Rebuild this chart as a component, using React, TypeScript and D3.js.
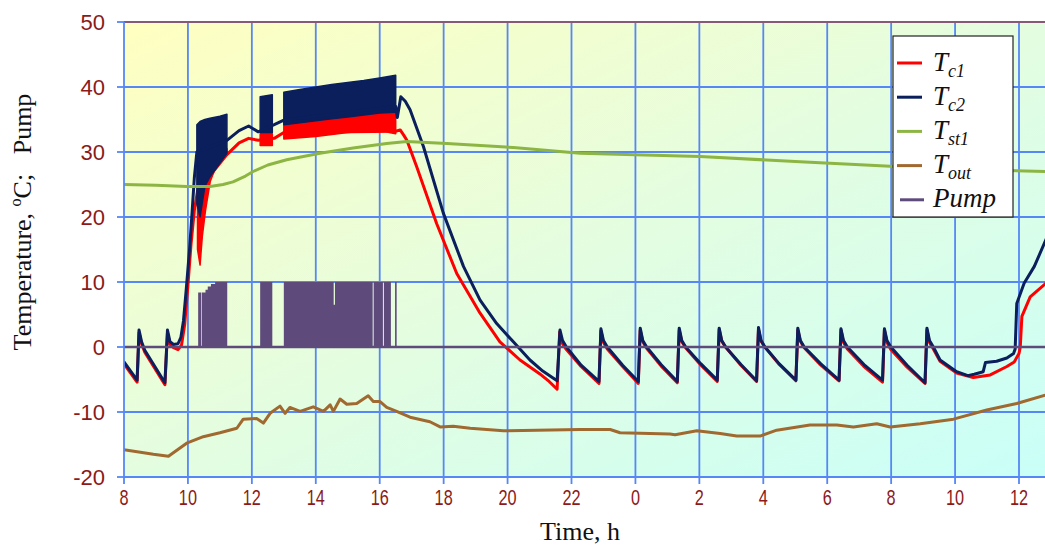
import React from 'react';
import * as d3 from 'd3';

const W = 1045;
const H = 549;

// time in hours from the first morning (24 = midnight)
const hourTicks = [8, 10, 12, 14, 16, 18, 20, 22, 24, 26, 28, 30, 32, 34, 36];
const hourLabels = ['8', '10', '12', '14', '16', '18', '20', '22', '0', '2', '4', '6', '8', '10', '12'];
const tempTicks = [-20, -10, 0, 10, 20, 30, 40, 50];

type Pt = [number, number];
type BandPt = [number, number, number];

const tc1: Pt[] = [
  [8.0, -2.6], [8.41, -5.4], [8.47, 2.2], [8.55, 0.5], [8.65, -0.8], [9.28, -5.8], [9.36, 2.2], [9.44, 0.4],
  [9.55, -0.1], [9.69, -0.4], [9.8, 0.3], [9.9, 3.5], [10.0, 9.5], [10.1, 16], [10.2, 21], [10.3, 24],
  [11.22, 29.6], [11.6, 31.4], [11.9, 32.1], [12.0, 32.0], [12.2, 31.8], [12.7, 32.1], [13.0, 33.0],
  [16.5, 33.2], [16.64, 33.4], [16.75, 32.6], [16.85, 31.8], [17.16, 27.7], [17.78, 19.0], [18.41, 11.3],
  [19.14, 5.2], [19.76, 0.8], [20.39, -2.0], [21.0, -4.1], [21.3, -5.3], [21.55, -6.5],
  [21.63, 2.3], [21.71, 0.6], [21.84, -0.4], [22.3, -3.0], [22.86, -5.6],
  [22.92, 2.5], [23.0, 0.7], [23.12, -0.3], [23.6, -3.0], [24.09, -5.6],
  [24.15, 2.6], [24.23, 0.8], [24.35, -0.2], [24.8, -2.9], [25.31, -5.5],
  [25.37, 2.6], [25.45, 0.8], [25.57, -0.1], [26.05, -2.8], [26.56, -5.3],
  [26.62, 2.7], [26.7, 0.9], [26.82, 0.0], [27.3, -2.8], [27.79, -5.3],
  [27.85, 2.7], [27.93, 0.9], [28.05, 0.0], [28.5, -2.7], [29.02, -5.2],
  [29.08, 2.6], [29.16, 0.9], [29.28, -0.1], [29.8, -2.8], [30.37, -5.2],
  [30.43, 2.6], [30.51, 0.7], [30.63, -0.3], [31.15, -3.0], [31.73, -5.4],
  [31.79, 2.6], [31.87, 0.7], [31.99, -0.4], [32.5, -3.1], [33.06, -5.6],
  [33.12, 2.6], [33.2, 0.7], [33.32, -0.3], [33.53, -2.2], [34.05, -4.0], [34.57, -4.7], [35.1, -4.3],
  [35.62, -3.0], [35.85, -2.3], [36.0, -1.0], [36.04, 0.0], [36.09, 4.7], [36.35, 7.7], [36.84, 9.8], [37.0, 10.4],
];

const tc2: Pt[] = [
  [8.0, -2.3], [8.41, -5.1], [8.47, 2.6], [8.55, 0.8], [8.65, -0.5], [9.28, -5.5], [9.36, 2.6], [9.44, 0.8],
  [9.55, 0.4], [9.69, 0.5], [9.78, 1.5], [9.86, 4.0], [9.95, 9.0], [10.05, 15], [10.12, 20], [10.2, 26], [10.28, 30],
  [11.22, 31.8], [11.6, 33.3], [11.9, 34.0], [12.0, 33.7], [12.2, 33.1], [12.7, 34.2], [13.0, 34.9],
  [16.5, 37.0], [16.55, 35.3], [16.66, 38.5], [16.8, 37.8], [16.95, 36.5], [17.37, 30.8], [17.99, 20.6],
  [18.62, 12.4], [19.14, 7.2], [19.66, 3.6], [20.18, 0.8], [20.7, -2.0], [21.1, -3.7], [21.55, -5.2],
  [21.64, 2.6], [21.72, 1.0], [21.84, 0.0], [22.3, -2.8], [22.86, -5.3],
  [22.92, 2.8], [23.0, 1.0], [23.12, 0.0], [23.6, -2.8], [24.09, -5.3],
  [24.15, 2.9], [24.23, 1.0], [24.35, 0.0], [24.8, -2.7], [25.31, -5.3],
  [25.37, 2.9], [25.45, 1.0], [25.57, 0.0], [26.05, -2.6], [26.56, -5.1],
  [26.62, 2.9], [26.7, 1.0], [26.82, 0.0], [27.3, -2.7], [27.79, -5.2],
  [27.85, 3.0], [27.93, 1.0], [28.05, 0.0], [28.5, -2.6], [29.02, -5.1],
  [29.08, 2.9], [29.16, 1.0], [29.28, 0.0], [29.8, -2.6], [30.37, -5.1],
  [30.43, 2.8], [30.51, 1.0], [30.63, 0.0], [31.15, -2.7], [31.73, -5.1],
  [31.79, 2.8], [31.87, 1.0], [31.99, 0.0], [32.5, -2.8], [33.06, -5.5],
  [33.12, 2.9], [33.2, 1.0], [33.32, 0.0], [33.53, -2.0], [34.05, -3.8], [34.4, -4.4], [34.6, -4.2],
  [34.88, -3.8], [34.95, -2.4], [35.3, -2.2], [35.62, -1.7], [35.83, -1.0], [35.88, -0.3], [35.93, 6.7],
  [36.16, 9.8], [36.48, 12.4], [36.84, 16.5], [37.0, 18.3],
];

// envelopes of the fast on/off oscillation: [t, low, high]
const tc1Bands: BandPt[][] = [
  [[10.3, 15, 26], [10.38, 12.6, 30], [10.45, 17, 33], [10.55, 21, 32], [10.7, 25.5, 31.5], [10.9, 28, 31], [11.22, 29.5, 30.5]],
  [[12.26, 31.0, 32.8], [12.64, 31.0, 32.8]],
  [[13.0, 32.0, 34.5], [13.5, 32.2, 34.9], [14.0, 32.4, 35.2], [14.5, 32.7, 35.5], [15.0, 33.0, 35.8],
    [15.5, 33.2, 36.1], [16.0, 33.5, 36.3], [16.3, 33.0, 36.4], [16.5, 32.8, 36.2]],
];

const tc2Bands: BandPt[][] = [
  [[10.28, 22, 34.2], [10.38, 20, 34.7], [10.53, 24.7, 35.0], [10.69, 26.2, 35.2], [11.0, 28.3, 35.5], [11.22, 29.8, 35.8]],
  [[12.26, 33.0, 38.5], [12.64, 33.0, 38.8]],
  [[13.0, 34.2, 39.2], [13.5, 34.5, 39.6], [14.0, 34.8, 40.0], [14.5, 35.1, 40.4], [15.0, 35.4, 40.7],
    [15.5, 35.7, 41.0], [16.0, 36.0, 41.4], [16.5, 36.1, 41.8]],
];

const tst1: Pt[] = [
  [8, 25], [9, 24.9], [9.96, 24.7], [10.69, 24.7], [11.1, 25.0], [11.41, 25.4], [11.8, 26.3], [12.04, 27.0],
  [12.5, 28.0], [13.09, 28.8], [14.13, 29.8], [15.17, 30.6], [16.22, 31.3], [16.85, 31.6], [18.1, 31.3],
  [20.18, 30.7], [22.27, 29.8], [26.02, 29.3], [29.15, 28.5], [31.97, 27.8], [34.0, 27.4], [36.82, 27.0], [37, 26.9],
];

const tout: Pt[] = [
  [8.0, -15.8], [8.92, -16.5], [9.39, -16.8], [9.96, -14.8], [10.48, -13.8], [11.0, -13.2], [11.53, -12.5],
  [11.73, -11.1], [12.15, -11.0], [12.36, -11.7], [12.57, -10.2], [12.88, -9.1], [13.04, -10.2], [13.19, -9.3],
  [13.51, -9.9], [13.92, -9.2], [14.24, -9.9], [14.45, -8.9], [14.55, -9.9], [14.76, -8.0], [14.97, -8.8],
  [15.28, -8.7], [15.64, -7.5], [15.8, -8.4], [16.01, -8.4], [16.22, -9.3], [16.53, -9.9], [16.95, -10.8],
  [17.57, -11.5], [17.89, -12.3], [18.3, -12.2], [18.83, -12.5], [19.87, -12.9], [20.91, -12.8], [22.27, -12.7],
  [23.21, -12.7], [23.52, -13.2], [25.08, -13.4], [25.24, -13.5], [25.92, -12.9], [26.65, -13.3], [27.17, -13.7],
  [27.9, -13.7], [28.42, -12.8], [29.46, -12.0], [30.3, -12.0], [30.82, -12.3], [31.55, -11.8], [31.97, -12.3],
  [32.91, -11.8], [33.95, -11.1], [34.99, -9.7], [35.93, -8.7], [36.82, -7.4], [37.0, -7.0],
];

// pump signal as steps (dense switching drawn as filled blocks)
const pump: Pt[] = [
  [8, 0], [10.32, 8.4], [10.41, 0], [10.43, 8.4], [10.55, 8.8], [10.62, 9.3], [10.72, 9.7], [10.85, 10], [11.23, 0],
  [12.26, 10], [12.64, 0], [13.0, 10], [14.56, 6.5], [14.6, 10], [15.78, 0], [15.81, 10], [16.1, 0],
  [16.13, 10], [16.35, 0], [16.48, 10], [16.53, 0], [37, 0],
];

const series = [
  { name: 'T', sub: 'c1', color: '#ff0000' },
  { name: 'T', sub: 'c2', color: '#0a1f5c' },
  { name: 'T', sub: 'st1', color: '#8db544' },
  { name: 'T', sub: 'out', color: '#a0692f' },
  { name: 'Pump', sub: '', color: '#5e4b7c' },
];

const gridColor = '#5587f7';
const labelColor = '#8c1a1a';

const App = () => {
  const x = d3.scaleLinear().domain([8, 36]).range([124, 1019]);
  const y = d3.scaleLinear().domain([-20, 50]).range([477, 22]);
  const left = x(8);
  const top = y(50);
  const bottom = y(-20);

  const line = d3.line<Pt>().x(d => x(d[0])).y(d => y(d[1]));
  const band = d3.area<BandPt>().x(d => x(d[0])).y0(d => y(d[1])).y1(d => y(d[2]));
  const pumpArea = d3
    .area<Pt>()
    .x(d => x(d[0]))
    .y0(y(0))
    .y1(d => y(d[1]))
    .curve(d3.curveStepAfter);

  return (
    <svg width={W} height={H} style={{ position: 'absolute', left: 0, top: 0, background: '#fff' }}>
      <defs>
        <linearGradient id="bg" x1="0" y1="0" x2="1" y2="1">
          <stop offset="0%" stopColor="#ffffc0" />
          <stop offset="50%" stopColor="#e4fde0" />
          <stop offset="100%" stopColor="#c9fff8" />
        </linearGradient>
        <clipPath id="plot">
          <rect x={left} y={top} width={W - left} height={bottom - top} />
        </clipPath>
      </defs>

      <rect x={left} y={top} width={W - left} height={bottom - top} fill="url(#bg)" />

      {/* grid */}
      <g stroke={gridColor} strokeWidth={1.8}>
        {hourTicks.slice(1).map(t => (
          <line key={'vx' + t} x1={x(t)} x2={x(t)} y1={top} y2={bottom} />
        ))}
        {tempTicks.slice(1).map(v => (
          <line key={'hy' + v} x1={left} x2={W} y1={y(v)} y2={y(v)} />
        ))}
      </g>
      <line x1={left} x2={W} y1={top} y2={top} stroke="#9a4a4a" strokeWidth={1.5} />

      <g clipPath="url(#plot)" fill="none" strokeLinejoin="round" strokeLinecap="round">
        {tc1Bands.map((b, i) => (
          <path key={'b1' + i} d={band(b) || ''} fill={series[0].color} stroke={series[0].color} strokeWidth={1.5} />
        ))}
        <path d={line(tc1) || ''} stroke={series[0].color} strokeWidth={3} />
        {tc2Bands.map((b, i) => (
          <path key={'b2' + i} d={band(b) || ''} fill={series[1].color} stroke={series[1].color} strokeWidth={1.5} />
        ))}
        <path d={line(tc2) || ''} stroke={series[1].color} strokeWidth={3} />
        <path d={line(tst1) || ''} stroke={series[2].color} strokeWidth={3} />
        <path d={line(tout) || ''} stroke={series[3].color} strokeWidth={3} />
        <path d={pumpArea(pump) || ''} fill={series[4].color} />
        <line x1={left} x2={W} y1={y(0)} y2={y(0)} stroke={series[4].color} strokeWidth={2.5} />
      </g>

      {/* axes */}
      <g stroke={gridColor} strokeWidth={1.8}>
        <line x1={left} x2={left} y1={top} y2={bottom} />
        <line x1={left} x2={W} y1={bottom} y2={bottom} />
        {tempTicks.map(v => (
          <line key={'ty' + v} x1={left - 7} x2={left} y1={y(v)} y2={y(v)} />
        ))}
        {hourTicks.map(t => (
          <line key={'tx' + t} x1={x(t)} x2={x(t)} y1={bottom} y2={bottom + 7} />
        ))}
      </g>

      <g fill={labelColor} fontFamily="'Liberation Sans', Arial, sans-serif" fontSize={22}>
        {tempTicks.map(v => (
          <text key={'ly' + v} x={105} y={y(v)} dy="0.36em" textAnchor="end">
            {v}
          </text>
        ))}
        {hourTicks.map((t, i) => (
          <text
            key={'lx' + t}
            transform={`translate(${x(t)},${505}) scale(0.74,1)`}
            textAnchor="middle"
            fontSize={22}
          >
            {hourLabels[i]}
          </text>
        ))}
      </g>

      <g fontFamily="'Liberation Serif', 'Times New Roman', serif" fill="#111">
        <text x={580} y={540} textAnchor="middle" fontSize={26}>
          Time, h
        </text>
        <text transform="translate(31,222) rotate(-90)" textAnchor="middle" fontSize={26}>
          Temperature,{' '}
          <tspan fontSize={16} dy={-10}>
            o
          </tspan>
          <tspan dy={10}>C;</tspan>
          {'\u00a0\u00a0 Pump'}
        </text>
      </g>

      {/* legend */}
      <g>
        <rect x={893} y={36} width={120} height={181} fill="#fff" stroke="#222" strokeWidth={1.2} />
        {series.map((s, i) => {
          const ry = 63 + i * 34.2;
          return (
            <g key={s.sub + s.name}>
              <line
                x1={s.sub ? 897 : 900}
                x2={s.sub ? 922 : 924}
                y1={ry}
                y2={ry}
                stroke={s.color}
                strokeWidth={3}
              />
              <text
                x={933}
                y={ry + 7.5}
                fontFamily="'Liberation Serif', 'Times New Roman', serif"
                fontStyle="italic"
                fontSize={27}
                fill="#111"
              >
                {s.name}
                {s.sub && (
                  <tspan fontSize={18} dy={6}>
                    {s.sub}
                  </tspan>
                )}
              </text>
            </g>
          );
        })}
      </g>
    </svg>
  );
};

export default App;
